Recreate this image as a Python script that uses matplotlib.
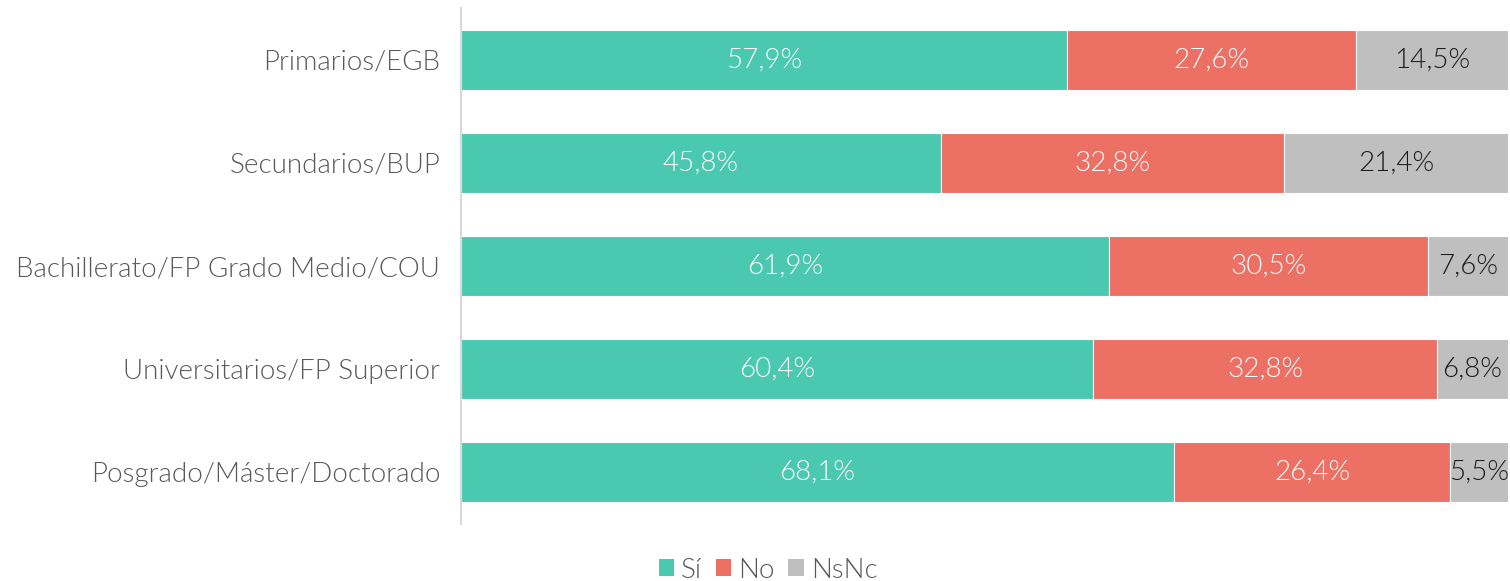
import matplotlib
matplotlib.use("Agg")
import matplotlib.pyplot as plt
from matplotlib.patches import Patch

categories = ["Primarios/EGB", "Secundarios/BUP", "Bachillerato/FP Grado Medio/COU",
              "Universitarios/FP Superior", "Posgrado/Máster/Doctorado"]
si = [57.9, 45.8, 61.9, 60.4, 68.1]
no = [27.6, 32.8, 30.5, 32.8, 26.4]
nsnc = [14.5, 21.4, 7.6, 6.8, 5.5]
series_names = ["Sí", "No", "NsNc"]

colors = ["#4BC9B0", "#ED7064", "#BFBFBF"]
text_colors = ["white", "white", "#1a1a1a"]

plt.rcParams['font.family'] = ['Lato', 'DejaVu Sans']
W = 300
FS = 20

fig = plt.figure(figsize=(15.10, 5.81), dpi=100)
ax = fig.add_axes([461/1510, 1-524/581, (1508-461)/1510, (524-8)/581])

y = list(range(len(categories)))
left = [0]*len(categories)
for vals, col, tc in zip([si, no, nsnc], colors, text_colors):
    ax.barh(y, vals, left=left, height=0.58, color=col, edgecolor='white', linewidth=0.8)
    for yi, l, v in zip(y, left, vals):
        ax.text(l + v/2, yi, f"{v:.1f}%".replace('.', ','), ha='center', va='center',
                color=tc, fontsize=FS, fontweight=W)
    left = [a + b for a, b in zip(left, vals)]

ax.set_xlim(0, 100)
ax.set_ylim(len(categories) - 0.5, -0.5)
ax.set_yticks(y)
ax.set_yticklabels(categories, fontsize=FS, color="#595959", fontweight=W)
ax.tick_params(axis='y', length=0, pad=15)
ax.set_xticks([])
for s in ['top', 'right', 'bottom']:
    ax.spines[s].set_visible(False)
ax.spines['left'].set_color('#D9D9D9')
ax.spines['left'].set_linewidth(1.5)

handles = [Patch(facecolor=c, edgecolor='none') for c in colors]
fig.legend(handles, series_names, loc='center', bbox_to_anchor=(768/1510, 1-570/581),
           ncol=3, frameon=False, prop={'size': FS, 'weight': W},
           handlelength=0.55, handleheight=0.55,
           handletextpad=0.25, columnspacing=0.5, labelcolor="#595959")

fig.savefig("out.png", dpi=100)
